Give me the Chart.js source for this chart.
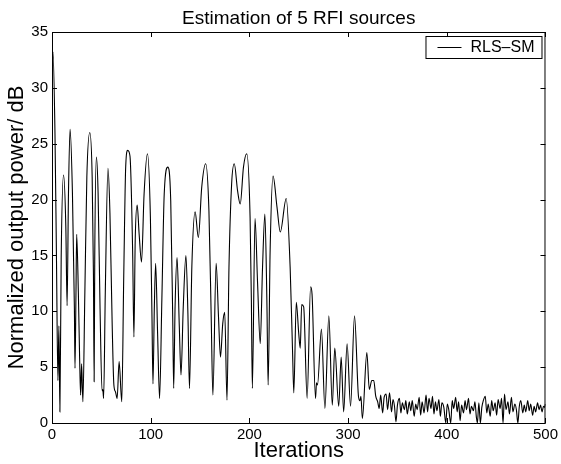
<!DOCTYPE html>
<html lang="en">
<head>
    <meta charset="UTF-8">
    <title>Estimation of 5 RFI sources</title>
    <script src="https://cdn.jsdelivr.net/npm/chart.js"></script>
    <style>
        html, body {
            margin: 0;
            padding: 0;
            background: #fff;
        }

        .chart-box {
            width: 561px;
            height: 464px;
        }
    </style>
</head>
<body>
    <div class="chart-box">
        <canvas id="rfiChart"></canvas>
    </div>

    <script>
        // 標題與圖例
        const chartTitle = 'Estimation of 5 RFI sources';
        const seriesName = 'RLS\u2013SM';
        const xLabel = 'Iterations';
        const yLabel = 'Normalized output power/ dB';

        // 座標刻度
        const xTicks = [0, 100, 200, 300, 400, 500];
        const yTicks = [0, 5, 10, 15, 20, 25, 30, 35];

        // 迭代次數（從圖上讀取的轉折點）
        const iterations = [
            0, 1, 3, 4.5, 6, 7, 8, 9.3, 11.7, 14, 15.3, 16.7, 18.3, 20.7, 22.7, 23.3, 24.3, 25,
            26.7, 28, 29, 30, 31.3, 33.3, 35.3, 38.3, 40.7, 42, 42.7, 43.3, 45, 46.7, 48.7, 50.7,
            51.5, 52.3, 54, 56.7, 58.7, 61, 62.7, 64.3, 66, 68, 70.7, 72.7, 74.7, 76.7,
            79, 81.7, 83, 84.3, 86.3, 88.3, 90.7, 93.3, 96.7, 99.7, 101.3, 102.3, 103.7, 105,
            107, 109, 111.3, 113.7, 117.3, 120.3, 122.3, 123.3, 124.7, 126.7, 129, 130.7, 133,
            135.7, 137.7, 139.3, 141.7, 145, 148.3, 151.7, 155.7, 159, 161.3, 163,
            166.3, 168.7, 170.7, 173, 175, 177.3, 179.3, 182, 184.7, 188, 190.7, 194, 197.3,
            200.7, 202, 203, 205.7, 208.3, 211, 213.3, 215.7, 217.7, 219, 221, 224, 228, 231.3,
            237.3, 241.3, 243.7, 245,
            247.5, 250, 251.5, 253, 255, 258.5, 262, 263.5, 267, 268, 269, 273, 276.5, 280.5,
            284, 286.5, 290.5, 293, 295.5, 299, 302.5, 306.5, 310.5, 312, 313, 314.5, 319,
            321.5, 324, 326, 328, 330, 331.5, 333, 335, 336.5, 338.5, 340, 342, 344, 345.5,
            347, 348.5, 350, 352, 353.5, 355, 357, 358.5, 360, 362, 363.5, 365, 367, 368.5,
            370, 372, 373.5, 375, 377, 379, 380.5, 382, 384, 385.5, 387, 388.5, 390, 392,
            393.5, 395, 397, 399, 400.5, 402, 404, 405.5, 407, 409, 410.5, 412, 413.5, 415,
            417, 418.5, 420, 422, 423.5, 425, 427, 428.5, 430, 431, 432.5, 434, 435.5, 437,
            439, 440.5, 442, 444, 445.5, 447, 449, 450.5, 452, 454, 455.5, 457, 458.5, 460,
            462, 463.5, 465.5, 467, 469, 470.5, 472, 473.5, 475, 477, 478.5, 480, 482, 483.5,
            485, 487, 488.5, 490, 492, 493.5, 495, 496.5, 498, 499, 500
        ];

        // 正規化輸出功率 (dB)
        const outputPower = [
            31.5, 33.2, 26, 15, 3.8, 8.7, 1.0, 14.7, 22.2, 17.6, 10.5, 20.6, 26.3, 20.6, 10.2, 4.9, 11.7, 16.9,
            11.7, 5.8, 2.5, 5.3, 1.9, 11.7, 22, 26.0, 22, 13.2, 3.7, 14.7, 23.8, 20.6, 10.2, 2.9,
            3.0, 2.2, 11.7, 22.8, 18.8, 8.7, 3.4, 2.8, 2.2, 5.5, 1.9, 13.2, 23, 24.4,
            23.9, 15.4, 7.7, 16.3, 19.5, 16.9, 14.4, 20.5, 24.1, 18.4, 9.5, 3.5, 10.4, 14.3,
            8.0, 2.2, 11, 20.5, 22.9, 19.9, 9.5, 3.1, 10.4, 14.8, 8.6, 4.3, 10.4,
            15.0, 9.8, 3.1, 14, 18.9, 16.6, 21.1, 23.2, 19.0, 9.5, 2.5,
            14.3, 9.5, 5.9, 8.9, 9.9, 2.05, 13.9, 21.4, 23.2, 20.8, 19.6, 22.9, 24.1,
            18.4, 11, 3.1, 18.3, 12.5, 7.1, 13.9, 18.7, 11, 3.4, 15.4, 22.1, 19.3, 17.1,
            20.1, 13.9, 6.5, 2.7,
            10.8, 8.0, 6.7, 10.6, 10.4, 2.2, 12.2, 11.5, 2.2, 3.6, 3.4, 8.4, 1.3, 9.6,
            1.6, 6.7, 1.5, 5.9, 1.0, 7.1, 1.5, 9.6, 2.4, 2.0, 2.4, 0.4, 6.3,
            3.0, 3.8, 3.8, 2.4, 1.9, 1.3, 2.5, 0.9, 2.3, 2.6, 1.2, 2.7, 1.0, 2.1,
            1.5, 0.1, 1.6, 2.2, 0.9, 1.8, 1.2, 2.0, 0.8, 1.9, 1.1, 2.0, 0.6, 1.7,
            1.2, 2.3, 0.7, 1.9, 0.9, 2.5, 1.0, 2.2, 1.3, 2.4, 0.8, 1.9, 1.1, 2.1,
            0.6, 1.8, 1.4, 0.0, 1.7, 1.2, 0.0, 2.0, 1.3, 2.3, 1.0, 1.9, 0.2, 1.6,
            0.9, 2.0, 1.2, 2.2, 0.8, 1.5, 1.1, 1.9, 0.5, 0.0, 1.8, 0.0, 1.4, 2.0,
            2.4, 0.9, 1.7, 0.6, 2.0, 1.1, 1.8, 0.7, 2.1, 1.3, 2.2, 0.0, 2.6, 1.2,
            1.9, 0.8, 2.3, 1.0, 1.7, 1.2, 0.0, 1.5, 2.0, 0.9, 1.6, 1.0, 2.0, 1.1,
            1.7, 0.7, 1.5, 1.0, 1.8, 1.2, 1.6, 1.0, 1.5, 1.4, 1.7
        ];

        const fontFamily = "'Liberation Sans', Arial, Helvetica, sans-serif";
        Chart.defaults.font.family = fontFamily;
        Chart.defaults.color = '#000';

        // 外框、內向刻度、標題與圖例
        const matlabFrame = {
            id: 'matlabFrame',
            afterDraw(chart) {
                const { ctx, chartArea, scales } = chart;
                const { left, right, top, bottom } = chartArea;
                const tickLen = 5;
                ctx.save();
                ctx.strokeStyle = '#000';
                ctx.lineWidth = 1;
                ctx.strokeRect(left + 0.5, top + 0.5, right - left - 1, bottom - top);

                ctx.beginPath();
                xTicks.forEach(v => {
                    const px = Math.round(scales.x.getPixelForValue(v)) + 0.5;
                    ctx.moveTo(px, bottom);
                    ctx.lineTo(px, bottom - tickLen);
                    ctx.moveTo(px, top);
                    ctx.lineTo(px, top + tickLen);
                });
                yTicks.forEach(v => {
                    const py = Math.round(scales.y.getPixelForValue(v)) + 0.5;
                    ctx.moveTo(left, py);
                    ctx.lineTo(left + tickLen, py);
                    ctx.moveTo(right, py);
                    ctx.lineTo(right - tickLen, py);
                });
                ctx.stroke();

                // 標題（置中於座標區）
                ctx.fillStyle = '#000';
                ctx.font = '19px ' + fontFamily;
                ctx.textAlign = 'center';
                ctx.textBaseline = 'middle';
                ctx.fillText(chartTitle, (left + right) / 2, top - 13);

                // 圖例
                const boxW = 116, boxH = 22;
                const bx = right - 4 - boxW, by = top + 4;
                ctx.fillStyle = '#fff';
                ctx.fillRect(bx, by, boxW, boxH);
                ctx.strokeRect(bx + 0.5, by + 0.5, boxW, boxH);
                ctx.beginPath();
                ctx.moveTo(bx + 12, by + boxH / 2 + 0.5);
                ctx.lineTo(bx + 36, by + boxH / 2 + 0.5);
                ctx.stroke();
                ctx.fillStyle = '#000';
                ctx.font = '16px ' + fontFamily;
                ctx.textAlign = 'left';
                ctx.fillText(chart.data.datasets[0].label, bx + 45, by + boxH / 2 + 1);
                ctx.restore();
            }
        };

        new Chart(document.getElementById('rfiChart'), {
            type: 'line',
            data: {
                labels: iterations,
                datasets: [{
                    label: seriesName,
                    data: iterations.map((x, i) => ({ x: x, y: outputPower[i] })),
                    borderColor: '#000',
                    borderWidth: 1.1,
                    pointRadius: 0,
                    fill: false,
                    cubicInterpolationMode: 'monotone'
                }]
            },
            options: {
                responsive: true,
                maintainAspectRatio: false,
                animation: false,
                layout: {
                    padding: { top: 32, right: 11, left: 0, bottom: 0 }
                },
                plugins: {
                    legend: { display: false },
                    title: { display: false },
                    tooltip: { enabled: false }
                },
                scales: {
                    x: {
                        type: 'linear',
                        min: 0,
                        max: 500,
                        afterFit(scale) { scale.height = 41; },
                        afterBuildTicks(scale) {
                            scale.ticks = xTicks.map(v => ({ value: v }));
                        },
                        grid: { display: false, drawTicks: false },
                        border: { display: false },
                        ticks: {
                            font: { size: 15 },
                            padding: 3,
                            maxRotation: 0
                        },
                        title: {
                            display: true,
                            text: xLabel,
                            font: { size: 22 },
                            padding: { top: 0, bottom: 0 }
                        }
                    },
                    y: {
                        min: 0,
                        max: 35,
                        afterFit(scale) { scale.width = 52; },
                        afterBuildTicks(scale) {
                            scale.ticks = yTicks.map(v => ({ value: v }));
                        },
                        grid: { display: false, drawTicks: false },
                        border: { display: false },
                        ticks: {
                            font: { size: 15 },
                            padding: 4
                        },
                        title: {
                            display: true,
                            text: yLabel,
                            font: { size: 22 },
                            padding: { top: 4, bottom: 0 }
                        }
                    }
                }
            },
            plugins: [matlabFrame]
        });
    </script>
</body>
</html>
